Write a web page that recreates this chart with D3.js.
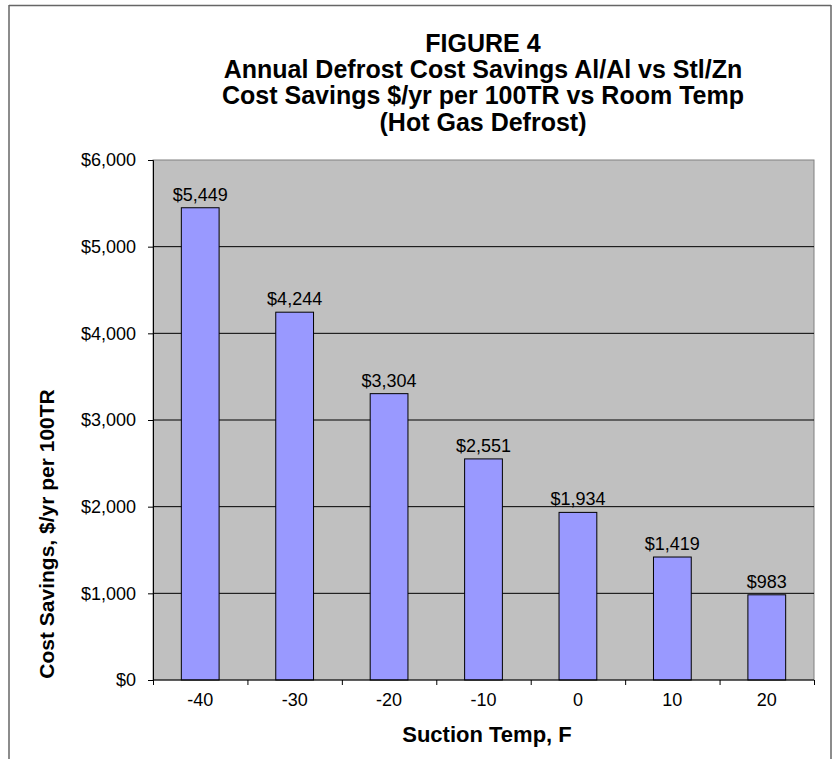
<!DOCTYPE html>
<html>
<head>
<meta charset="utf-8">
<script src="https://cdn.jsdelivr.net/npm/d3@7"></script>
<style>
  body { margin: 0; background: #fff; }
  text { font-family: Arial, "Liberation Sans", sans-serif; fill: #000; }
</style>
</head>
<body>
<div id="chart"></div>
<script>
// data
var categories = ["-40", "-30", "-20", "-10", "0", "10", "20"];
var savings = [5449, 4244, 3304, 2551, 1934, 1419, 983];
var yTicks = [0, 1000, 2000, 3000, 4000, 5000, 6000];
var titleLines = [
  "FIGURE 4",
  "Annual Defrost Cost Savings Al/Al vs Stl/Zn",
  "Cost Savings $/yr per 100TR vs Room Temp",
  "(Hot Gas Defrost)"
];
var xTitle = "Suction Temp, F";
var yTitle = "Cost Savings, $/yr per 100TR";

var W = 836, H = 759;
var plot = {left: 153, right: 814, top: 160, bottom: 680};

var svg = d3.select("#chart").append("svg")
    .attr("width", W).attr("height", H);

// outer chart frame (bottom runs off the page)
var frame = svg.append("g").attr("stroke", "#666").attr("stroke-width", 1.5).attr("fill", "none");
frame.append("line").attr("x1", 9).attr("y1", 5.5).attr("x2", 831).attr("y2", 5.5);
frame.append("line").attr("x1", 9).attr("y1", 5).attr("x2", 9).attr("y2", H);
frame.append("line").attr("x1", 831).attr("y1", 5).attr("x2", 831).attr("y2", H);

var x = d3.scaleBand().domain(categories).range([plot.left, plot.right]).padding(0);
var y = d3.scaleLinear().domain([0, 6000]).range([plot.bottom, plot.top]);
var barW = x.bandwidth() / 2.5;

// plot area
svg.append("rect")
    .attr("x", plot.left).attr("y", plot.top)
    .attr("width", plot.right - plot.left).attr("height", plot.bottom - plot.top)
    .attr("fill", "#c0c0c0").attr("stroke", "#808080").attr("stroke-width", 1);

// gridlines
svg.append("g").selectAll("line")
    .data(yTicks.filter(function(d) { return d > 0 && d < 6000; }))
    .enter().append("line")
    .attr("x1", plot.left).attr("x2", plot.right)
    .attr("y1", function(d) { return y(d); }).attr("y2", function(d) { return y(d); })
    .attr("stroke", "#000").attr("stroke-width", 1);

// bars
svg.append("g").selectAll("rect")
    .data(savings)
    .enter().append("rect")
    .attr("x", function(d, i) { return x(categories[i]) + (x.bandwidth() - barW) / 2; })
    .attr("y", function(d) { return y(d); })
    .attr("width", barW)
    .attr("height", function(d) { return y(0) - y(d); })
    .attr("fill", "#9999ff").attr("stroke", "#000").attr("stroke-width", 1);

// value labels
svg.append("g").selectAll("text")
    .data(savings)
    .enter().append("text")
    .attr("x", function(d, i) { return x(categories[i]) + x.bandwidth() / 2; })
    .attr("y", function(d) { return y(d) - 7; })
    .attr("text-anchor", "middle")
    .attr("font-size", 18)
    .text(function(d) { return "$" + d3.format(",")(d); });

// y axis
var yAxis = svg.append("g")
    .attr("transform", "translate(" + plot.left + ",0)")
    .call(d3.axisLeft(y).tickValues(yTicks).tickSize(5).tickPadding(12)
      .tickFormat(function(d) { return "$" + d3.format(",")(d); }));
yAxis.selectAll("text").attr("font-size", 18).attr("font-family", null);
yAxis.selectAll("line, path").attr("stroke", "#000");

// x axis: ticks at category boundaries, labels at centres
var xb = d3.scaleLinear().domain([0, categories.length]).range([plot.left, plot.right]);
var xTicks = svg.append("g")
    .attr("transform", "translate(0," + plot.bottom + ")")
    .call(d3.axisBottom(xb).ticks(categories.length).tickSize(5).tickFormat(""));
xTicks.select(".domain").attr("d", "M" + plot.left + ",0H" + plot.right);
xTicks.selectAll("line, path").attr("stroke", "#000");

var xLabels = svg.append("g")
    .attr("transform", "translate(0," + plot.bottom + ")")
    .call(d3.axisBottom(x).tickSize(0).tickPadding(13));
xLabels.select(".domain").remove();
xLabels.selectAll("text").attr("font-size", 18).attr("font-family", null);

// titles
svg.append("g").selectAll("text")
    .data(titleLines)
    .enter().append("text")
    .attr("x", 483)
    .attr("y", function(d, i) { return 52 + i * 26.2; })
    .attr("text-anchor", "middle")
    .attr("font-size", 25)
    .attr("font-weight", "bold")
    .text(function(d) { return d; });

svg.append("text")
    .attr("x", 487).attr("y", 742)
    .attr("text-anchor", "middle")
    .attr("font-size", 22).attr("font-weight", "bold")
    .text(xTitle);

svg.append("text")
    .attr("transform", "translate(54,534) rotate(-90)")
    .attr("text-anchor", "middle")
    .attr("font-size", 21).attr("font-weight", "bold")
    .text(yTitle);
</script>
</body>
</html>
